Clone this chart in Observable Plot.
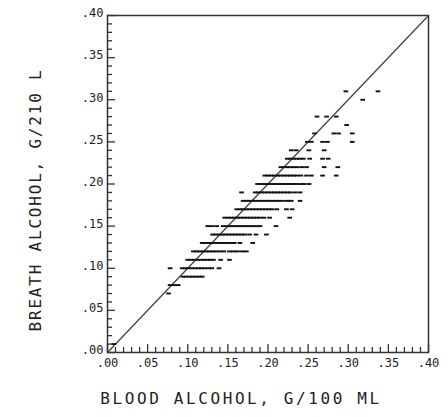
<!DOCTYPE html>
<html>
<head>
<meta charset="utf-8">
<script src="https://cdn.jsdelivr.net/npm/d3@7"></script>
<script src="https://cdn.jsdelivr.net/npm/@observablehq/plot@0.6"></script>
<style>
  html, body { margin: 0; padding: 0; background: #fff; }
</style>
</head>
<body>
<div id="chart"></div>
<script>
// Breath alcohol levels (g/210 L), one row of measurements per level
const breathLevels = [0.01, 0.07, 0.08, 0.09, 0.10, 0.11, 0.12, 0.13, 0.14, 0.15, 0.16, 0.17, 0.18, 0.19, 0.20, 0.21, 0.22, 0.23, 0.24, 0.25, 0.26, 0.27, 0.28, 0.30, 0.31];
// Blood alcohol values (g/100 mL) for each breath level
const bloodValues = [
  [0.008],
  [0.076],
  [0.078, 0.083, 0.088],
  [0.094, 0.098, 0.102, 0.106, 0.110, 0.114, 0.118],
  [0.078, 0.093, 0.097, 0.101, 0.105, 0.109, 0.113, 0.117, 0.121, 0.126, 0.130, 0.139],
  [0.100, 0.104, 0.108, 0.112, 0.116, 0.120, 0.124, 0.128, 0.132, 0.141, 0.152],
  [0.107, 0.111, 0.115, 0.119, 0.123, 0.127, 0.131, 0.135, 0.140, 0.145, 0.152, 0.157, 0.162, 0.168, 0.173],
  [0.118, 0.122, 0.126, 0.130, 0.134, 0.138, 0.142, 0.146, 0.150, 0.154, 0.158, 0.165, 0.181],
  [0.131, 0.135, 0.139, 0.143, 0.147, 0.151, 0.155, 0.159, 0.163, 0.167, 0.171, 0.177, 0.185, 0.198],
  [0.125, 0.130, 0.136, 0.144, 0.149, 0.153, 0.157, 0.161, 0.165, 0.169, 0.173, 0.177, 0.181, 0.186, 0.190, 0.210],
  [0.146, 0.150, 0.154, 0.158, 0.162, 0.166, 0.170, 0.174, 0.178, 0.182, 0.186, 0.190, 0.195, 0.202, 0.227],
  [0.161, 0.165, 0.169, 0.173, 0.177, 0.181, 0.185, 0.189, 0.193, 0.197, 0.201, 0.205, 0.211, 0.223, 0.230],
  [0.169, 0.173, 0.177, 0.181, 0.185, 0.189, 0.193, 0.197, 0.201, 0.205, 0.209, 0.213, 0.218, 0.224, 0.229, 0.240],
  [0.167, 0.184, 0.188, 0.192, 0.196, 0.200, 0.204, 0.208, 0.212, 0.216, 0.220, 0.224, 0.228, 0.234, 0.240],
  [0.187, 0.191, 0.195, 0.199, 0.203, 0.207, 0.211, 0.215, 0.219, 0.223, 0.227, 0.231, 0.235, 0.240, 0.245, 0.251],
  [0.196, 0.200, 0.204, 0.208, 0.212, 0.216, 0.220, 0.224, 0.228, 0.232, 0.236, 0.241, 0.248, 0.254, 0.268, 0.285],
  [0.216, 0.220, 0.224, 0.228, 0.232, 0.236, 0.242, 0.248, 0.270, 0.287],
  [0.224, 0.228, 0.232, 0.236, 0.240, 0.244, 0.252, 0.268, 0.275],
  [0.229, 0.235, 0.251, 0.270],
  [0.249, 0.254, 0.268, 0.274, 0.305],
  [0.258, 0.282, 0.288, 0.305],
  [0.298],
  [0.261, 0.273, 0.285],
  [0.318],
  [0.297, 0.337]
];

const majorTicks = [0, 0.05, 0.10, 0.15, 0.20, 0.25, 0.30, 0.35, 0.40];
const tickLabels = [".00", ".05", ".10", ".15", ".20", ".25", ".30", ".35", ".40"];
const minorTicks = [0.01,0.02,0.03,0.04,0.06,0.07,0.08,0.09,0.11,0.12,0.13,0.14,0.16,0.17,0.18,0.19,0.21,0.22,0.23,0.24,0.26,0.27,0.28,0.29,0.31,0.32,0.33,0.34,0.36,0.37,0.38,0.39];
const diagonal = [0, 0.40];
const xTitle = "BLOOD ALCOHOL, G/100 ML";
const yTitle = "BREATH ALCOHOL, G/210 L";

const points = [];
breathLevels.forEach((b, i) => bloodValues[i].forEach(v => points.push({blood: v, breath: b})));

const W = 448, H = 417;
const mL = 107, mR = 20, mT = 15, mB = 65;
const fw = W - mL - mR, fh = H - mT - mB;

const dash = {
  draw(context, size) {
    const r = Math.sqrt(size / Math.PI) * 0.9;
    context.moveTo(-r, 0);
    context.lineTo(r, 0);
  }
};

const labelOf = d => tickLabels[majorTicks.findIndex(t => Math.abs(t - d) < 1e-9)];
const font = "'DejaVu Sans Mono', monospace";

const chart = Plot.plot({
  width: W,
  height: H,
  marginLeft: mL,
  marginRight: mR,
  marginTop: mT,
  marginBottom: mB,
  style: {fontFamily: font, fontSize: "12px", color: "#222", background: "#fff"},
  x: {domain: [0, 0.40], axis: null},
  y: {domain: [0, 0.40], axis: null},
  marks: [
    Plot.frame({stroke: "#333", strokeWidth: 1.5}),
    Plot.link([diagonal], {x1: d => d[0], y1: d => d[0], x2: d => d[1], y2: d => d[1], stroke: "#444", strokeWidth: 1.3}),
    Plot.tickX(minorTicks, {x: d => d, insetTop: fh - 5, stroke: "#333", strokeWidth: 1.3}),
    Plot.tickX(majorTicks, {x: d => d, insetTop: fh - 8, stroke: "#333", strokeWidth: 1.3}),
    Plot.tickY(minorTicks, {y: d => d, insetRight: fw - 5, stroke: "#333", strokeWidth: 1.3}),
    Plot.tickY(majorTicks, {y: d => d, insetRight: fw - 8, stroke: "#333", strokeWidth: 1.3}),
    Plot.axisX({ticks: majorTicks, tickFormat: labelOf, tickSize: 0, tickPadding: 6, fontSize: 12, fill: "#222", label: null}),
    Plot.axisY({ticks: majorTicks, tickFormat: labelOf, tickSize: 0, tickPadding: 4, dy: -2, fontSize: 12, fill: "#222", label: null}),
    Plot.dot(points, {x: "blood", y: "breath", symbol: dash, r: 2.6, fill: "none", stroke: "#111", strokeWidth: 1.9}),
    Plot.text([xTitle], {text: d => d, frameAnchor: "bottom", textAnchor: "middle", dx: -27, dy: 51, fontSize: 16, fill: "#222", fontFamily: font}),
    Plot.text([yTitle], {text: d => d, frameAnchor: "left", textAnchor: "middle", rotate: -90, dx: -72, dy: 16, fontSize: 16, fill: "#222", fontFamily: font})
  ]
});

// letter spacing on titles
chart.querySelectorAll("text").forEach(t => {
  if (t.textContent === xTitle) t.setAttribute("letter-spacing", "2.6");
  if (t.textContent === yTitle) t.setAttribute("letter-spacing", "1.8");
});

document.getElementById("chart").appendChild(chart);
</script>
</body>
</html>
